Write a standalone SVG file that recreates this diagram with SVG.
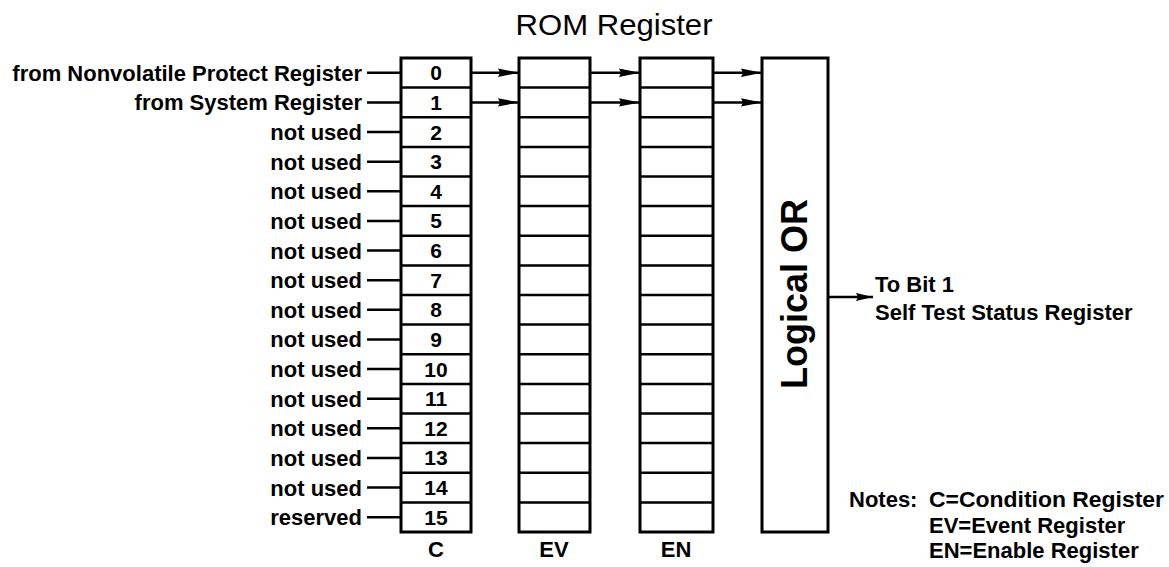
<svg xmlns="http://www.w3.org/2000/svg" width="1169" height="567" viewBox="0 0 1169 567">
<style>
text{font-family:"Liberation Sans",Arial,Helvetica,sans-serif;fill:#000}
.lbl{font-size:22px;font-weight:bold}
.r{text-anchor:end}
.m{text-anchor:middle}
.dig{font-size:21px;font-weight:bold;text-anchor:middle}
.box{fill:#fff;stroke:#000;stroke-width:3}
.div{fill:none;stroke:#000;stroke-width:2.5}
.ln{fill:none;stroke:#000;stroke-width:2.5}
</style>
<defs>
<marker id="ah" markerUnits="userSpaceOnUse" markerWidth="22" markerHeight="10" refX="21" refY="5" orient="auto" viewBox="0 0 22 10">
<path d="M0,0.8 L21,5 L0,9.2 L2,5 z" fill="#000"/>
</marker>
<marker id="ah2" markerUnits="userSpaceOnUse" markerWidth="18" markerHeight="10" refX="17" refY="5" orient="auto" viewBox="0 0 18 10">
<path d="M0,1 L17,5 L0,9 L2,5 z" fill="#000"/>
</marker>
</defs>
<rect width="1169" height="567" fill="#fff"/>

<g id="title">
<text x="614" y="35" class="m" font-size="29" textLength="197" lengthAdjust="spacingAndGlyphs">ROM Register</text>
</g>

<g id="register-C">
<rect class="box" x="401" y="58" width="70" height="474"/>
<path class="div" d="M401,87.6H471M401,117.25H471M401,146.9H471M401,176.5H471M401,206.1H471M401,235.75H471M401,265.4H471M401,295H471M401,324.6H471M401,354.25H471M401,383.9H471M401,413.5H471M401,443.1H471M401,472.75H471M401,502.4H471"/>
<text class="dig" x="436" y="80.3">0</text>
<text class="dig" x="436" y="109.9">1</text>
<text class="dig" x="436" y="139.6">2</text>
<text class="dig" x="436" y="169.2">3</text>
<text class="dig" x="436" y="198.8">4</text>
<text class="dig" x="436" y="228.4">5</text>
<text class="dig" x="436" y="258.1">6</text>
<text class="dig" x="436" y="287.7">7</text>
<text class="dig" x="436" y="317.3">8</text>
<text class="dig" x="436" y="346.9">9</text>
<text class="dig" x="436" y="376.6">10</text>
<text class="dig" x="436" y="406.2">11</text>
<text class="dig" x="436" y="435.8">12</text>
<text class="dig" x="436" y="465.4">13</text>
<text class="dig" x="436" y="495.1">14</text>
<text class="dig" x="436" y="524.7">15</text>
<text class="lbl m" x="436" y="557">C</text>
</g>

<g id="register-EV">
<rect class="box" x="519" y="58" width="71" height="474"/>
<path class="div" d="M519,87.6H590M519,117.25H590M519,146.9H590M519,176.5H590M519,206.1H590M519,235.75H590M519,265.4H590M519,295H590M519,324.6H590M519,354.25H590M519,383.9H590M519,413.5H590M519,443.1H590M519,472.75H590M519,502.4H590"/>
<text class="lbl m" x="554" y="557">EV</text>
</g>

<g id="register-EN">
<rect class="box" x="640" y="58" width="73" height="474"/>
<path class="div" d="M640,87.6H713M640,117.25H713M640,146.9H713M640,176.5H713M640,206.1H713M640,235.75H713M640,265.4H713M640,295H713M640,324.6H713M640,354.25H713M640,383.9H713M640,413.5H713M640,443.1H713M640,472.75H713M640,502.4H713"/>
<text class="lbl m" x="676" y="557">EN</text>
</g>

<g id="logical-or">
<rect class="box" x="762" y="58" width="66" height="474"/>
<text transform="translate(807,294) rotate(-90)" text-anchor="middle" font-size="36" font-weight="bold">Logical OR</text>
</g>

<g id="input-labels">
<text class="lbl r" x="362" y="80.8">from Nonvolatile Protect Register</text>
<text class="lbl r" x="362" y="110.4">from System Register</text>
<text class="lbl r" x="362" y="140.1">not used</text>
<text class="lbl r" x="362" y="169.7">not used</text>
<text class="lbl r" x="362" y="199.3">not used</text>
<text class="lbl r" x="362" y="228.9">not used</text>
<text class="lbl r" x="362" y="258.6">not used</text>
<text class="lbl r" x="362" y="288.2">not used</text>
<text class="lbl r" x="362" y="317.8">not used</text>
<text class="lbl r" x="362" y="347.4">not used</text>
<text class="lbl r" x="362" y="377.1">not used</text>
<text class="lbl r" x="362" y="406.7">not used</text>
<text class="lbl r" x="362" y="436.3">not used</text>
<text class="lbl r" x="362" y="465.9">not used</text>
<text class="lbl r" x="362" y="495.6">not used</text>
<text class="lbl r" x="362" y="525.2">reserved</text>
</g>

<g id="output-label">
<text class="lbl" x="875" y="292">To Bit 1</text>
<text class="lbl" x="875" y="320">Self Test Status Register</text>
</g>

<g id="notes">
<text class="lbl" x="849" y="507">Notes:</text>
<text class="lbl" x="929" y="507" textLength="235" lengthAdjust="spacingAndGlyphs">C=Condition Register</text>
<text class="lbl" x="929" y="533">EV=Event Register</text>
<text class="lbl" x="929" y="558">EN=Enable Register</text>
</g>

<g id="connectors">
<path class="ln" d="M367,72.8H401M367,102.4H401M367,132.1H401M367,161.7H401M367,191.3H401M367,220.9H401M367,250.6H401M367,280.2H401M367,309.8H401M367,339.4H401M367,369.1H401M367,398.7H401M367,428.3H401M367,457.9H401M367,487.6H401M367,517.2H401"/>
<line class="ln" x1="471" y1="72.8" x2="519" y2="72.8" marker-end="url(#ah)"/>
<line class="ln" x1="471" y1="102.4" x2="519" y2="102.4" marker-end="url(#ah)"/>
<line class="ln" x1="590" y1="72.8" x2="640" y2="72.8" marker-end="url(#ah)"/>
<line class="ln" x1="590" y1="102.4" x2="640" y2="102.4" marker-end="url(#ah)"/>
<line class="ln" x1="713" y1="72.8" x2="762" y2="72.8" marker-end="url(#ah)"/>
<line class="ln" x1="713" y1="102.4" x2="762" y2="102.4" marker-end="url(#ah)"/>
<line class="ln" x1="828" y1="297" x2="873" y2="297" marker-end="url(#ah2)"/>
</g>
</svg>
